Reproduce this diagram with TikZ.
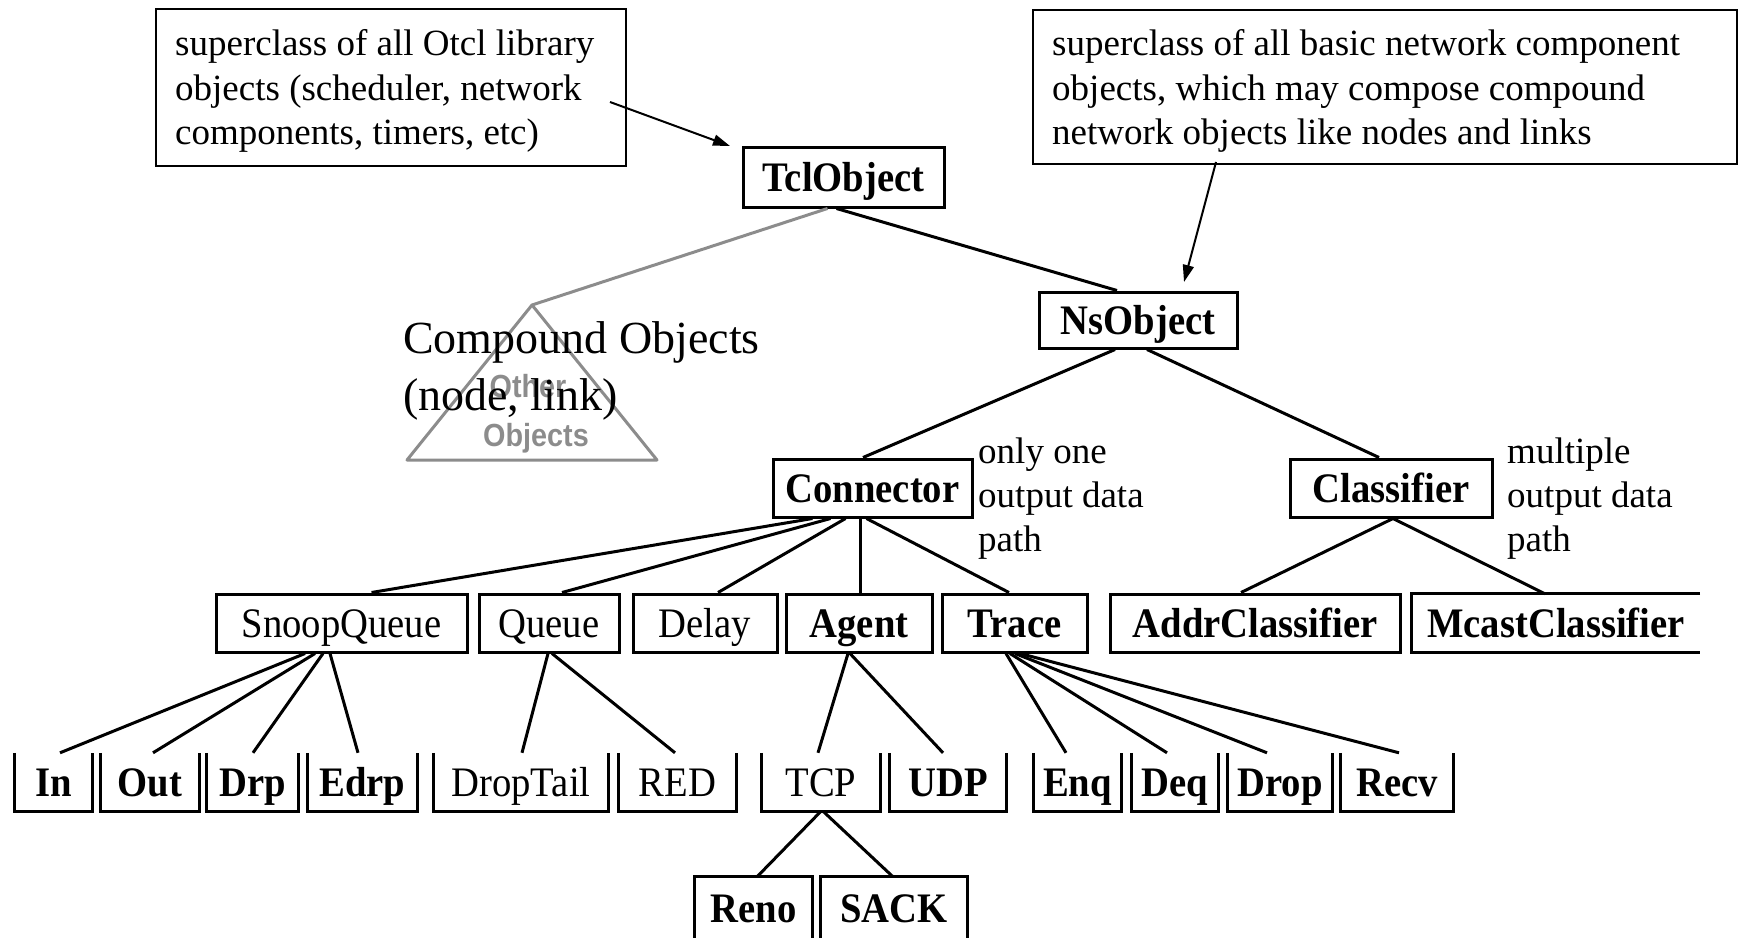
\documentclass[tikz,border=0pt]{standalone}
\usepackage{fontspec}
\usepackage{graphicx}
\setmainfont{Liberation Serif}
\newfontfamily\labsans{Liberation Sans}
\usetikzlibrary{arrows.meta}
\definecolor{shade}{RGB}{140,140,140}
% narrow the class names a little, like the bitmap font of the original figure
\newcommand\sqz[1]{\scalebox{0.92}[1]{#1}}
\tikzset{
  cls/.style={inner sep=0pt, minimum height=58pt, text height=28pt, text depth=0pt,
              font=\fontsize{42}{48}\selectfont},
  heavy/.style={font=\fontsize{42}{48}\selectfont\bfseries},
  boxed/.style={cls, draw, line width=3pt},
  frame/.style={line width=3pt},
  edge/.style={line width=3pt},
  faded/.style={line width=3pt, draw=shade},
  greylabel/.style={anchor=base, inner sep=0pt, text=shade,
                    font=\labsans\bfseries\fontsize{32}{38}\selectfont},
  callout/.style={draw, line width=2pt, inner sep=0pt},
  note/.style={anchor=base west, inner sep=0pt, font=\fontsize{37}{45}\selectfont},
  big/.style={anchor=base west, inner sep=0pt, font=\fontsize{46}{56}\selectfont},
  pointer/.style={line width=2pt, -{Triangle[length=17pt,width=11pt]}},
}
\begin{document}
\begin{tikzpicture}[x=1pt,y=-1pt]
\useasboundingbox (0,0) rectangle (1739,937);

% ---------- callouts ----------
\node[callout, minimum width=470pt, minimum height=157pt] (lbox) at (391,87.5) {};
\node[note] (lt1) at (175,55) {superclass of all Otcl library};
\node[note] (lt2) at (175,100) {objects (scheduler, network};
\node[note] (lt3) at (175,144) {components, timers, etc)};

\node[callout, minimum width=704pt, minimum height=154pt] (rbox) at (1385,87) {};
\node[note] (rt1) at (1052,55) {superclass of all basic network component};
\node[note] (rt2) at (1052,100) {objects, which may compose compound};
\node[note] (rt3) at (1052,144) {network objects like nodes and links};

% ---------- compound objects (grey triangle) ----------
\coordinate (apex) at (532,305);
\coordinate (tbl) at (407,460);
\coordinate (tbr) at (657,460);
\draw[faded, line join=round] (apex) -- (tbl) -- (tbr) -- cycle;
\node[greylabel] (oth) at (528,397) {\scalebox{0.9}[1]{Other}};
\node[greylabel] (obj) at (536,446) {\scalebox{0.9}[1]{Objects}};
\node[big] (cmp1) at (403,353) {Compound Objects};
\node[big] (cmp2) at (403,410) {(node, link)};

% ---------- class boxes ----------
\node[boxed, heavy, minimum width=201pt, minimum height=60pt] (tcl) at (843.5,177) {\sqz{TclObject}};
\node[boxed, heavy, minimum width=198pt, minimum height=56pt] (ns) at (1138,320) {\sqz{NsObject}};
\node[boxed, heavy, minimum width=199pt] (conn) at (872.5,488) {\sqz{Connector}};
\node[boxed, heavy, minimum width=202pt] (clas) at (1391,488) {\sqz{Classifier}};

\node[boxed, minimum width=251pt] (snoop) at (341.5,623) {\sqz{SnoopQueue}};
\node[boxed, minimum width=140pt] (queue) at (549,623) {\sqz{Queue}};
\node[boxed, minimum width=144pt] (delay) at (705,623) {\sqz{Delay}};
\node[boxed, heavy, minimum width=146pt] (agent) at (859,623) {\sqz{Agent}};
\node[boxed, heavy, minimum width=145pt] (trace) at (1014.5,623) {\sqz{Trace}};
\node[boxed, heavy, minimum width=290pt] (addr) at (1255,623) {\sqz{AddrClassifier}};
\node[cls, heavy, minimum width=288pt] (mcast) at (1556,623) {\sqz{McastClassifier}};

\node[cls, heavy, minimum width=77pt] (in) at (53.5,782) {\sqz{In}};
\node[cls, heavy, minimum width=98pt] (out) at (150,782) {\sqz{Out}};
\node[cls, heavy, minimum width=91pt] (drp) at (252.5,782) {\sqz{Drp}};
\node[cls, heavy, minimum width=109pt] (edrp) at (362.5,782) {\sqz{Edrp}};
\node[cls, minimum width=174pt] (droptail) at (521,782) {\sqz{DropTail}};
\node[cls, minimum width=117pt] (red) at (677.5,782) {\sqz{RED}};
\node[cls, minimum width=118pt] (tcp) at (821,782) {\sqz{TCP}};
\node[cls, heavy, minimum width=116pt] (udp) at (948,782) {\sqz{UDP}};
\node[cls, heavy, minimum width=87pt] (enq) at (1077.5,782) {\sqz{Enq}};
\node[cls, heavy, minimum width=86pt] (deq) at (1175,782) {\sqz{Deq}};
\node[cls, heavy, minimum width=104pt] (drop) at (1280,782) {\sqz{Drop}};
\node[cls, heavy, minimum width=112pt] (recv) at (1397,782) {\sqz{Recv}};

\node[cls, heavy, minimum width=117pt, minimum height=62pt] (reno) at (753.5,908) {\sqz{Reno}};
\node[cls, heavy, minimum width=146pt, minimum height=62pt] (sack) at (894,908) {\sqz{SACK}};

% open frames: bottom row has no top edge
\foreach \n in {in,out,drp,edrp,droptail,red,tcp,udp,enq,deq,drop,recv}
  \draw[frame] (\n.north west) -- (\n.south west) -- (\n.south east) -- (\n.north east);
% last row runs off the bottom
\foreach \n in {reno,sack}
  \draw[frame] (\n.south west) -- (\n.north west) -- (\n.north east) -- (\n.south east);
% McastClassifier runs off the right
\draw[frame] (mcast.north east) -- (mcast.north west) -- (mcast.south west) -- (mcast.south east);

% ---------- side notes ----------
\node[note] (c1) at (978,463) {only one};
\node[note] (c2) at (978,507) {output data};
\node[note] (c3) at (978,551) {path};
\node[note] (m1) at (1507,463) {multiple};
\node[note] (m2) at (1507,507) {output data};
\node[note] (m3) at (1507,551) {path};

% ---------- hierarchy edges ----------
\draw[faded] ([xshift=-16pt]tcl.south) -- (apex);
\draw[edge] ([xshift=-7pt]tcl.south) -- ([xshift=-21pt]ns.north);
\draw[edge] ([xshift=-23pt]ns.south) -- ([xshift=-9.5pt]conn.north);
\draw[edge] ([xshift=9pt]ns.south) -- ([xshift=-12pt]clas.north);

\draw[edge] ([xshift=-60pt]conn.south) -- ([xshift=30pt]snoop.north);
\draw[edge] ([xshift=-42pt]conn.south) -- ([xshift=13pt]queue.north);
\draw[edge] ([xshift=-27pt]conn.south) -- ([xshift=13pt]delay.north);
\draw[edge] ([xshift=-12.5pt]conn.south) -- ([xshift=1pt]agent.north);
\draw[edge] ([xshift=-6pt]conn.south) -- ([xshift=-5.5pt]trace.north);

\draw[edge] ([xshift=2pt]clas.south) -- ([xshift=-14pt]addr.north);
\draw[edge] ([xshift=2pt]clas.south) -- ([xshift=-11pt]mcast.north);

\draw[edge] ([xshift=-36.5pt]snoop.south) -- ([xshift=6.5pt]in.north);
\draw[edge] ([xshift=-26.5pt]snoop.south) -- ([xshift=3pt]out.north);
\draw[edge] ([xshift=-18.5pt]snoop.south) -- ([xshift=0.5pt]drp.north);
\draw[edge] ([xshift=-11.5pt]snoop.south) -- ([xshift=-4.5pt]edrp.north);

\draw[edge] ([xshift=-1pt]queue.south) -- ([xshift=1pt]droptail.north);
\draw[edge] ([xshift=3pt]queue.south) -- ([xshift=-2.5pt]red.north);

\draw[edge] ([xshift=-11pt]agent.south) -- ([xshift=-3pt]tcp.north);
\draw[edge] ([xshift=-9pt]agent.south) -- ([xshift=-5pt]udp.north);

\draw[edge] (tcp.south) -- ([xshift=3.5pt]reno.north);
\draw[edge] ([xshift=2pt]tcp.south) -- ([xshift=-1pt]sack.north);

\draw[edge] ([xshift=-8.5pt]trace.south) -- ([xshift=-11.5pt]enq.north);
\draw[edge] ([xshift=-4.5pt]trace.south) -- ([xshift=-8pt]deq.north);
\draw[edge] ([xshift=0.5pt]trace.south) -- ([xshift=-13pt]drop.north);
\draw[edge] ([xshift=5.5pt]trace.south) -- ([xshift=2pt]recv.north);

% ---------- callout pointers ----------
\coordinate (la) at (610,102);
\coordinate (lb) at (730,146);
\draw[pointer] (la) -- (lb);
\coordinate (ra) at (1216,162);
\coordinate (rb) at (1184,282);
\draw[pointer] (ra) -- (rb);
\end{tikzpicture}
\end{document}
